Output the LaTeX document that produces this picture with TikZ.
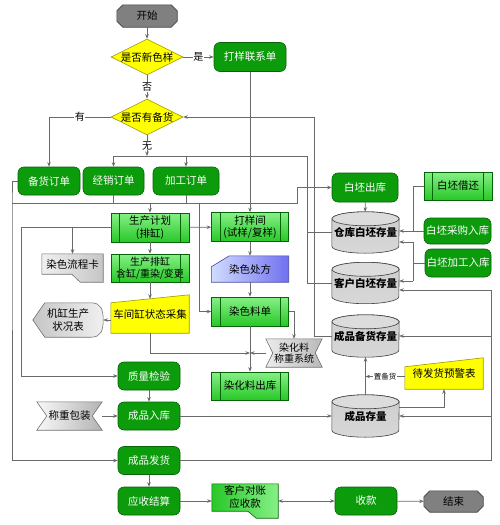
\documentclass[tikz,border=0pt]{standalone}
\usepackage{fontspec}
\setmainfont{Noto Sans CJK SC}
\usetikzlibrary{shapes.geometric,arrows.meta,calc}
\pgfdeclarelayer{bg}
\pgfsetlayers{bg,main}
\definecolor{dkgreen}{HTML}{0B9B0B}
\definecolor{dkgreenb}{HTML}{056405}
\definecolor{ltA}{HTML}{86F086}
\definecolor{ltB}{HTML}{28C828}
\definecolor{yellow1}{HTML}{FFFF00}
\definecolor{yelb}{HTML}{9A9A00}
\definecolor{octf}{HTML}{808080}
\definecolor{octb}{HTML}{404040}
\definecolor{cylf}{HTML}{C4C4C4}
\definecolor{cyltop}{HTML}{DCDCDC}
\definecolor{cylb}{HTML}{404040}
\definecolor{grayb}{HTML}{707070}
\definecolor{blueA}{HTML}{D0DCFF}
\definecolor{blueB}{HTML}{7070F0}
\definecolor{blueb}{HTML}{4848A0}
\definecolor{lineg}{HTML}{6A6A6A}
\newcommand\octshape[1]{\draw[draw=octb, fill=octf, line width=0.6pt] ($(#1.north west)+(6,0)$) -- ($(#1.north east)+(-6,0)$) -- ($(#1.north east)+(0,6)$) -- ($(#1.south east)+(0,-6)$) -- ($(#1.south east)+(-6,0)$) -- ($(#1.south west)+(6,0)$) -- ($(#1.south west)+(0,-6)$) -- ($(#1.north west)+(0,6)$) -- cycle;}
\newcommand\cylshape[1]{%
 \path[draw=cylb, top color=cylf!85, bottom color=cylf!110!black, line width=0.6pt] ($(#1.north west)+(0,7)$) -- ($(#1.south west)+(0,-7)$) arc[start angle=180, end angle=360, x radius=33.5pt, y radius=7pt] -- ($(#1.north east)+(0,7)$) arc[start angle=0, end angle=180, x radius=33.5pt, y radius=7pt] -- cycle;
 \path[draw=cylb, fill=cyltop, line width=0.6pt] ($(#1.north)+(0,7)$) ellipse[x radius=33.5pt, y radius=7pt];}
\begin{document}
\begin{tikzpicture}[x=1pt,y=-1pt,
  font=\fontsize{10.5}{12.5}\selectfont,
  every node/.style={inner sep=1pt, align=center},
  rbox/.style={rectangle, rounded corners=6pt, draw=dkgreenb, fill=dkgreen, text=white, minimum width=62pt, minimum height=28pt, line width=0.6pt},
  pbox/.style={rectangle, draw=dkgreenb, top color=ltA, bottom color=ltB, minimum width=77pt, minimum height=29pt, line width=0.6pt},
  dia/.style={diamond, aspect=2, inner sep=0pt, draw=yelb, fill=yellow1, line width=0.6pt},
  ghost/.style={rectangle, inner sep=0pt},
  cyl/.style={rectangle, inner sep=0pt, text width=67pt, minimum height=41pt, font=\fontsize{10.5}{12}\selectfont\bfseries},
  line/.style={draw=lineg, line width=0.7pt},
  arr/.style={line, -{Stealth[length=4.5pt,width=3.5pt]}},
  darr/.style={line, {Stealth[length=4.5pt,width=3.5pt]}-{Stealth[length=4.5pt,width=3.5pt]}},
  lbl/.style={fill=white, inner sep=0.5pt, font=\fontsize{10}{12}\selectfont},
]
\useasboundingbox (0,0) rectangle (500,525);

% ---- nodes ----
\node[ghost, minimum width=60pt, minimum height=22pt] (st) at (147,16) {开始};
\node[dia] (d1) at (147,57) {是否新色样};
\node[rbox, minimum width=72pt, minimum height=29pt] (dylx) at (250,57) {打样联系单};
\node[dia] (d2) at (147,117) {是否有备货};
\node[rbox] (bh) at (49,181) {备货订单};
\node[rbox, minimum width=61pt] (jx) at (113.5,181) {经销订单};
\node[rbox, minimum width=66pt] (jg) at (186,181) {加工订单};
\node[pbox, minimum width=78pt] (scjh) at (150,227.5) {生产计划\\(排缸)};
\node[ghost, minimum width=61pt, minimum height=20pt] (rslck) at (72.5,264) {染色流程卡};
\node[pbox, minimum width=78pt, minimum height=28pt, font=\fontsize{10}{12}\selectfont] (scpg) at (150,268) {生产排缸\\含缸/重染/变更};
\node[ghost, minimum width=78pt, minimum height=38pt] (cjg) at (150,314) {车间缸状态采集};
\node[ghost, minimum width=70pt, minimum height=34pt] (jgzk) at (68,320) {机缸生产\\状况表};
\node[rbox] (zljy) at (149,376) {质量检验};
\node[ghost, minimum width=65pt, minimum height=28pt] (czbz) at (69.5,416) {称重包装};
\node[rbox] (cprk) at (149,416) {成品入库};
\node[rbox] (cpfh) at (149,460.5) {成品发货};
\node[rbox] (ysjs) at (149,501) {应收结算};
\node[ghost, minimum width=66pt, minimum height=26pt] (khdz) at (245,497) {客户对账\\应收款};
\node[rbox] (sk) at (366,501) {收款};
\node[ghost, minimum width=59pt, minimum height=21pt] (ed) at (453.5,501.5) {结束};
\node[pbox] (dyj) at (250,227) {打样间\\(试样/复样)};
\node[ghost, minimum width=77pt, minimum height=26pt] (rscf) at (250,269) {染色处方};
\node[pbox] (rsld) at (250,311.5) {染色料单};
\node[ghost, minimum width=56pt, minimum height=28pt, font=\fontsize{10}{11}\selectfont] (rhlcz) at (294,353) {染化料\\称重系统};
\node[pbox, minimum height=28pt] (rhlck) at (250,386) {染化料出库};
\node[rbox, minimum width=66pt, minimum height=29pt] (bpck) at (365,187.5) {白坯出库};
\node[cyl] (ck) at (365.5,232.5) {仓库白坯存量};
\node[cyl] (kh) at (365.5,283) {客户白坯存量};
\node[cyl, minimum height=42pt] (cpbh) at (365.5,336) {成品备货存量};
\node[cyl, minimum height=42pt] (cpcl) at (365.5,416) {成品存量};
\node[pbox, minimum width=68pt, minimum height=28pt] (bpjh) at (458,186) {白坯借还};
\node[rbox, minimum width=67pt, minimum height=26pt] (bpcg) at (457.5,231) {白坯采购入库};
\node[rbox, minimum width=66pt, minimum height=28pt] (bpjg) at (458,263) {白坯加工入库};
\node[ghost, minimum width=78pt, minimum height=31pt] (dfh) at (444,373.5) {待发货预警表};

% ---- background shapes ----
\begin{pgfonlayer}{bg}
\fill[white] (0,0) rectangle (500,525);
\octshape{st}
\octshape{ed}
\cylshape{ck}
\cylshape{kh}
\cylshape{cpbh}
\cylshape{cpcl}
\draw[draw=grayb, left color=gray!12, right color=gray!45, line width=0.6pt] (rslck.north west) -- (rslck.north east) -- ($(rslck.south east)+(0,8)$) -- ($(rslck.south east)+(-23,8)$) -- ($(rslck.south west)+(30,0)$) -- (rslck.south west) -- cycle;
\draw[draw=grayb, left color=gray!45, right color=gray!12, line width=0.6pt] (jgzk.west) -- ($(jgzk.north west)+(12,0)$) -- ($(jgzk.north east)+(-12,0)$) .. controls ($(jgzk.north east)+(-2,0)$) and ($(jgzk.east)+(0,-10)$) .. (jgzk.east) .. controls ($(jgzk.east)+(0,10)$) and ($(jgzk.south east)+(-2,0)$) .. ($(jgzk.south east)+(-12,0)$) -- ($(jgzk.south west)+(12,0)$) -- cycle;
\draw[draw=yelb, fill=yellow1, line width=0.6pt] ($(cjg.north west)+(0,8)$) -- (cjg.north east) -- (cjg.south east) -- (cjg.south west) -- cycle;
\draw[draw=grayb, left color=gray!5, right color=gray!60, line width=0.6pt] (czbz.north west) -- (czbz.north east) -- ($(czbz.east)+(-10,0)$) -- (czbz.south east) -- (czbz.south west) -- ($(czbz.west)+(10,0)$) -- cycle;
\draw[draw=dkgreenb, left color=ltB, right color=ltA, line width=0.6pt] (khdz.north west) -- (khdz.north east) -- ($(khdz.south east)+(0,8)$) -- ($(khdz.south east)+(-22,8)$) -- ($(khdz.south west)+(36,1)$) -- ($(khdz.south west)+(0,1)$) -- cycle;
\draw[draw=blueb, left color=blueA, right color=blueB, line width=0.6pt] ($(rscf.north west)+(0,11)$) -- ($(rscf.north west)+(18,0)$) -- (rscf.north east) -- (rscf.south east) -- (rscf.south west) -- cycle;
\draw[draw=grayb, left color=gray!15, right color=gray!55, line width=0.6pt] (rhlcz.north west) -- (rhlcz.north east) -- ($(rhlcz.east)+(-7,0)$) -- (rhlcz.south east) -- (rhlcz.south west) -- ($(rhlcz.west)+(7,0)$) -- cycle;
\draw[draw=yelb, fill=yellow1, line width=0.6pt] ($(dfh.north west)+(0,9)$) -- (dfh.north east) -- (dfh.south east) -- (dfh.south west) -- cycle;
\end{pgfonlayer}

\foreach \n in {scjh,scpg,dyj,rsld,rhlck,bpjh} {
  \draw[draw=dkgreenb, line width=0.6pt] ($(\n.north west)+(9,0)$) -- ($(\n.south west)+(9,0)$) ($(\n.north east)+(-9,0)$) -- ($(\n.south east)+(-9,0)$);
}

% ---- connectors ----
\coordinate (j1) at (147,156);
\coordinate (b1) at (307,156);
\coordinate (b2) at (314,336);
\coordinate (o1) at (12,203);
\coordinate (o2) at (297,203);
\coordinate (o3) at (199,203);
\coordinate (p1) at (21,227.5);
\coordinate (m1) at (250,353);
\coordinate (r1) at (491,460.5);
\coordinate (r2) at (491,290);
\coordinate (q2) at (413,231);
\coordinate (q3) at (413,242);
\coordinate (q4) at (413,281);
\coordinate (dw) at ($(dfh.west)+(0,3)$);
\coordinate (kw) at (khdz.west |- ysjs.east);
\coordinate (ke) at (khdz.east |- sk.west);

\draw[arr] (st) -- (d1);
\draw[arr] (d1) -- node[lbl]{是} (dylx);
\draw[arr] (d1) -- node[lbl]{否} (d2);
\draw[arr] (d2.west) -| node[lbl,pos=0.25]{有} (bh.north);
\draw[arr] (d2.south) -- node[lbl]{无} (j1);
\draw[arr] (j1) -| (jx.north);
\draw[arr] (j1) -| (jg.north);
\draw[line] (j1) -- (b1) |- (ck.west);
\draw[line] (b1) |- (kh.west);
\draw[arr] (cpbh.west) -- (b2) |- (d2.east);
\draw[arr] (dylx) -- (dyj);

\draw[arr] (bh.west) -| (o1) |- (cpfh.west);
\draw[arr] (o1) -- (o2) |- (bpck.west);
\draw[line] (jx.south) -- (jx.south |- o1);
\draw[line] (jg.south) -- (jg.south |- o1);
\draw[arr] (scjh.north |- o1) -- (scjh.north);
\draw[arr] (o3) |- (rsld.west);

\draw[arr] (scjh) -- (dyj);
\draw[arr] (scjh.west) -- (p1) |- (zljy.west);
\draw[arr] (scjh.west -| rslck.north) -- (rslck.north);
\draw[arr] (scjh) -- (scpg);
\draw[arr] (scpg.south) -- ($(cjg.north)+(0,4)$);
\draw[arr] (cjg.west |- jgzk.east) -- (jgzk.east);
\draw[arr] (cjg.south) |- (m1);
\draw[arr] (rhlcz.west) -- (m1);

\draw[arr] (dyj) -- (rscf);
\draw[arr] (rscf) -- (rsld);
\draw[arr] (rsld) -- (rhlck);
\draw[arr] (rsld.east) -| (rhlcz.north);

\draw[arr] (zljy) -- (cprk);
\draw[arr] (czbz) -- (cprk);
\draw[arr] (cprk) -- (cpcl);
\draw[arr] (cpfh) -- (ysjs);
\draw[arr] (cpfh.east) -- (r1) -- (r2) -- (r2 -| kh.east);
\draw[arr] (r1 |- cpbh.east) -- (cpbh.east);
\draw[arr] (r1 |- cpcl.east) -- (cpcl.east);
\draw[arr] (ysjs.east) -- (kw);
\draw[darr] (ke) -- (sk.west);
\draw[arr] (sk) -- (ed);

\draw[arr] (bpck) -- (ck);
\draw[line] (bpjh.west) -| (q2);
\draw[arr] (bpcg.west) -- (bpcg.west -| ck.east);
\draw[line] (bpjg.west) -- (bpjg.west -| q3);
\draw[line] (q3) -- (q4);
\draw[arr] (q3) -- (q3 -| ck.east);
\draw[arr] (q4) -- (q4 -| kh.east);

\draw[arr] (cpcl) -- (cpbh);
\draw[arr] (dw) -- node[lbl, font=\fontsize{7.5}{9}\selectfont]{置备货} (dw -| cpcl.north);
\draw[arr] ($(cpcl.east)+(0,-9)$) -| (dfh.south);
\end{tikzpicture}
\end{document}
